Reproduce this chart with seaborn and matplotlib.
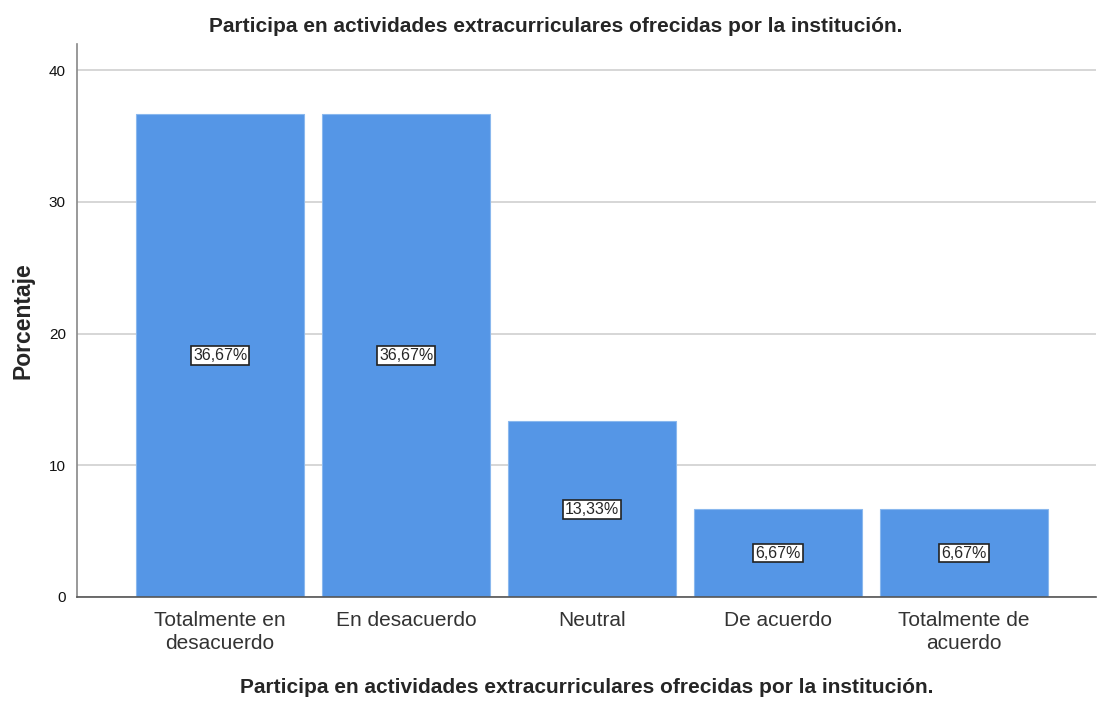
import pandas as pd
import matplotlib
matplotlib.use("Agg")
import matplotlib.pyplot as plt
import seaborn as sns

categorias = ["Totalmente en\ndesacuerdo", "En desacuerdo", "Neutral", "De acuerdo", "Totalmente de\nacuerdo"]
porcentajes = [36.67, 36.67, 13.33, 6.67, 6.67]
yticks = [0, 10, 20, 30, 40]
titulo = "Participa en actividades extracurriculares ofrecidas por la institución."

sns.set_style("white")
plt.rcParams["font.family"] = ["Liberation Sans", "DejaVu Sans"]

df = pd.DataFrame({"categoria": categorias, "porcentaje": porcentajes})

fig = plt.figure(figsize=(10.98, 7.04), dpi=100)
ax = fig.add_axes([0.0701, 0.152, 0.928, 0.7855])

sns.barplot(data=df, x="categoria", y="porcentaje", color="#5596e6", saturation=1,
            width=0.9, edgecolor="#8ab8ee", linewidth=0.8, ax=ax, zorder=2)

ax.set_ylim(0, 42)
ax.set_xlim(-0.77, 4.71)
ax.set_yticks(yticks)
ax.yaxis.grid(True, color="#cfcfcf", linewidth=1.2, zorder=0)
ax.set_axisbelow(True)
ax.tick_params(axis="y", labelsize=11, length=0, pad=8, labelcolor="#111111")
ax.tick_params(axis="x", labelsize=15, length=0, pad=10, labelcolor="#333333")
for lbl in ax.get_xticklabels():
    lbl.set_linespacing(1.3)

for side in ["top", "right"]:
    ax.spines[side].set_visible(False)
ax.spines["left"].set_color("#888888")
ax.spines["bottom"].set_color("#555555")
ax.spines["left"].set_linewidth(1.2)
ax.spines["bottom"].set_linewidth(1.2)

etiquetas = [f"{v:.2f}".replace(".", ",") + "%" for v in porcentajes]
ax.bar_label(ax.containers[0], labels=etiquetas, label_type="center", fontsize=11.5,
             bbox=dict(boxstyle="square,pad=0.12", facecolor="white", edgecolor="#222222", linewidth=1.2))

ax.set_ylabel("Porcentaje", fontsize=16.5, fontweight="bold", labelpad=10)
ax.set_xlabel(titulo, fontsize=15, fontweight="bold", labelpad=18)
fig.text(0.506, 0.962, titulo, ha="center", va="center", fontsize=15, fontweight="bold")

fig.savefig("out.png", dpi=100)
